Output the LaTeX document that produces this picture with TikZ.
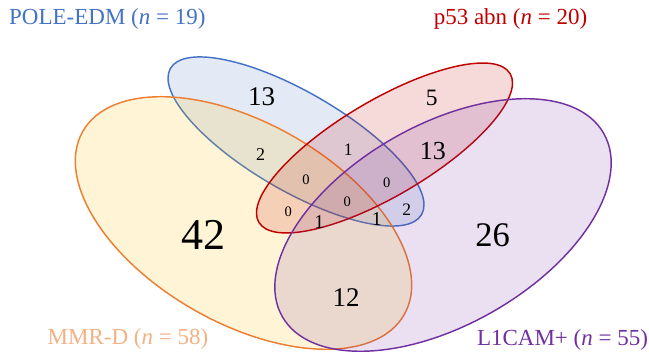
\documentclass[tikz,border=0pt]{standalone}
\usepackage{fontspec}
\setmainfont{Liberation Serif}
\definecolor{cblue}{HTML}{4472C4}
\definecolor{cred}{HTML}{C00000}
\definecolor{corange}{HTML}{ED7D31}
\definecolor{cpeach}{HTML}{F4B183}
\definecolor{cpurple}{HTML}{7030A0}
\definecolor{cyellow}{HTML}{FFC000}
\tikzset{
  setline/.style={line width=1.45pt},
  numtxt/.style={inner sep=0pt, text=black},
  lbl/.style={inner sep=0pt, font=\fontsize{23}{26}\selectfont},
}
\newcommand{\fsz}[1]{\fontsize{#1}{#1}\selectfont}
\begin{document}
\begin{tikzpicture}[x=1pt,y=1pt]
\useasboundingbox (0,0) rectangle (649,352);
% blue POLE-EDM
\fill[cblue, fill opacity=0.15, rotate around={-30.2:(296,210.5)}] (296,210.5) ellipse [x radius=145.3, y radius=49.2];
\draw[cblue, setline, rotate around={-30.2:(296,210.5)}] (296,210.5) ellipse [x radius=145.3, y radius=49.2];
% orange MMR-D
\fill[cyellow, fill opacity=0.16, rotate around={-29.7:(243.5,129)}] (243.5,129) ellipse [x radius=185, y radius=100];
\draw[corange, setline, rotate around={-29.7:(243.5,129)}] (243.5,129) ellipse [x radius=185, y radius=100];
% red p53
\fill[cred, fill opacity=0.15, rotate around={30.6:(384.5,204)}] (384.5,204) ellipse [x radius=146, y radius=47.8];
\draw[cred, setline, rotate around={30.6:(384.5,204)}] (384.5,204) ellipse [x radius=146, y radius=47.8];
% purple L1CAM+
\fill[cpurple, fill opacity=0.15, rotate around={29.7:(443,127)}] (443,127) ellipse [x radius=185, y radius=100];
\draw[cpurple, setline, rotate around={29.7:(443,127)}] (443,127) ellipse [x radius=185, y radius=100];
% labels
\node[lbl, text=cblue, anchor=west] (lpole) at (9,333) {POLE-EDM (\textit{n} = 19)};
\node[lbl, text=cred] (lp53) at (510.5,333) {p53 abn (\textit{n} = 20)};
\node[lbl, text=cpeach] (lmmr) at (128,13) {MMR-D (\textit{n} = 58)};
\node[lbl, text=cpurple] (ll1) at (562.5,12) {L1CAM+ (\textit{n} = 55)};
% numbers
\node[numtxt, font=\fsz{27}] (n13a) at (261.7,255.3) {13};
\node[numtxt, font=\fsz{23.5}] (n5) at (431.7,253.7) {5};
\node[numtxt, font=\fsz{18}] (n2a) at (260.7,197.7) {2};
\node[numtxt, font=\fsz{17.5}] (n1a) at (348.3,202) {1};
\node[numtxt, font=\fsz{26}] (n13b) at (432.8,201.3) {13};
\node[numtxt, font=\fsz{14.5}] (n0a) at (306,172) {0};
\node[numtxt, font=\fsz{14.5}] (n0b) at (386.7,169.7) {0};
\node[numtxt, font=\fsz{14.5}] (n0c) at (288.3,140.3) {0};
\node[numtxt, font=\fsz{14.5}] (n0d) at (347.3,150.3) {0};
\node[numtxt, font=\fsz{19.5}] (n1b) at (319.3,130.3) {1};
\node[numtxt, font=\fsz{19.5}] (n1c) at (376.7,133) {1};
\node[numtxt, font=\fsz{17.5}] (n2b) at (406.7,142) {2};
\node[numtxt, font=\fsz{44}] (n42) at (203.3,117) {42};
\node[numtxt, font=\fsz{34.5}] (n26) at (492.5,117) {26};
\node[numtxt, font=\fsz{27}] (n12) at (346,54.3) {12};
\end{tikzpicture}
\end{document}
